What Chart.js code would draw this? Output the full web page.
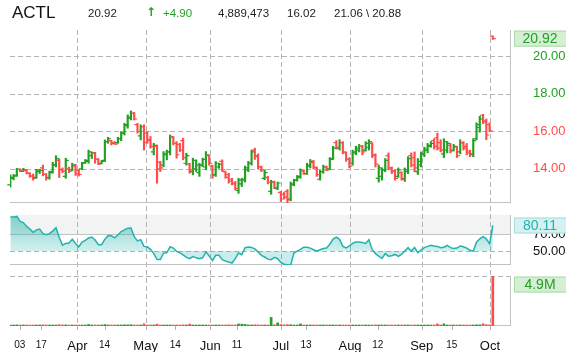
<!DOCTYPE html>
<html>
<head>
<meta charset="utf-8">
<script src="https://cdn.jsdelivr.net/npm/chart.js@4.4.1/dist/chart.umd.min.js"></script>
<style>
  html, body { margin: 0; padding: 0; background: #fff; }
  #wrap { position: relative; width: 566px; height: 352px; overflow: hidden; font-family: 'Liberation Sans', Arial, sans-serif; }
  #chart { position: absolute; left: 0; top: 0; }
  .hd { position: absolute; top: 6px; font-size: 11.5px; line-height: 14px; color: #222; white-space: pre; }
  #sym { top: 3px; font-size: 17px; line-height: 20px; color: #111; }
  #hArrow { top: 5px; font-family: 'DejaVu Sans', sans-serif; font-size: 12px; line-height: 14px; font-weight: bold; }
  .up { color: #22a022; }
</style>
</head>
<body>
<div id="wrap">
  <canvas id="chart" width="566" height="352"></canvas>
  <span class="hd" id="sym" style="left:12px"></span>
  <span class="hd" id="hLast" style="left:88px"></span>
  <span class="hd up" id="hArrow" style="left:146px">↑</span>
  <span class="hd up" id="hChg" style="left:163px"></span>
  <span class="hd" id="hVol" style="left:218px"></span>
  <span class="hd" id="hPrev" style="left:287px"></span>
  <span class="hd" id="hRange" style="left:334px"></span>
</div>
<script>
// ── DATA ─────────────────────────────────────────────────────────────────────
const symbol = 'ACTL';

const opens = [
  13.15, 13.50, 13.65, 13.98, 13.88, 13.92, 13.76, 13.62, 13.55, 13.85,
  14.05, 13.70, 13.52, 13.85, 14.20, 14.45, 13.98, 13.60, 14.00, 13.95,
  14.15, 13.90, 14.00, 14.32, 14.40, 14.70, 14.85, 14.50, 14.30, 14.45,
  15.45, 15.50, 15.40, 15.40, 15.60, 15.90, 16.30, 16.70, 16.95, 16.35,
  15.75, 16.25, 15.90, 15.55, 14.90, 15.20, 14.35, 14.20, 14.75, 14.90,
  15.70, 15.35, 15.30, 15.50, 14.30, 14.25, 13.85, 14.00, 13.80, 14.20,
  14.10, 14.70, 14.15, 13.70, 14.10, 14.40, 13.85, 13.70, 13.45, 13.25,
  12.85, 13.20, 13.40, 13.95, 14.30, 15.00, 14.70, 14.10, 13.50, 13.55,
  12.80, 13.30, 12.95, 12.75, 12.65, 12.80, 12.40, 13.15, 13.40, 13.55,
  13.90, 13.75, 14.15, 14.35, 14.05, 13.45, 13.85, 14.10, 14.00, 14.55,
  15.40, 15.10, 15.40, 14.85, 14.50, 14.30, 14.85, 15.00, 15.20, 15.00,
  15.15, 15.35, 14.70, 13.50, 13.60, 13.95, 14.70, 14.05, 13.90, 13.60,
  13.80, 13.45, 13.85, 14.70, 14.60, 13.85, 14.20, 14.75, 15.00, 15.20,
  15.50, 15.65, 15.40, 14.80, 15.00, 15.25, 15.00, 15.15, 14.90, 15.40,
  15.20, 14.95, 14.80, 15.60, 16.20, 16.85, 16.55, 16.35, 21.05
];
const highs = [
  13.68, 13.70, 14.03, 14.00, 14.03, 13.95, 13.80, 13.73, 13.98, 13.98,
  14.20, 13.75, 13.88, 14.35, 14.70, 14.53, 14.05, 14.57, 14.10, 14.30,
  14.25, 13.98, 14.35, 14.50, 15.00, 14.90, 14.88, 14.55, 14.45, 15.54,
  15.68, 15.52, 15.45, 15.68, 15.98, 16.42, 16.87, 17.08, 17.00, 16.42,
  16.34, 16.34, 15.98, 15.72, 15.36, 15.27, 14.40, 14.92, 15.00, 15.80,
  15.72, 15.45, 15.36, 15.63, 14.83, 14.30, 14.57, 14.48, 14.30, 14.57,
  14.92, 14.74, 14.20, 14.39, 14.30, 14.48, 13.86, 13.77, 13.50, 13.33,
  13.50, 13.50, 14.15, 14.40, 15.00, 15.10, 14.80, 14.15, 13.95, 13.60,
  13.40, 13.35, 13.30, 12.80, 12.75, 12.90, 13.30, 13.45, 13.65, 14.00,
  13.95, 14.30, 14.50, 14.45, 14.10, 13.95, 14.20, 14.15, 14.60, 15.20,
  15.50, 15.55, 15.45, 14.90, 14.60, 15.00, 15.20, 15.30, 15.25, 15.45,
  15.55, 15.40, 14.80, 14.20, 14.05, 14.55, 14.85, 14.10, 13.95, 14.05,
  13.85, 14.05, 14.65, 14.85, 14.90, 14.55, 14.90, 15.15, 15.35, 15.45,
  15.60, 15.90, 15.55, 15.60, 15.45, 15.35, 15.30, 15.20, 15.55, 15.45,
  15.35, 15.00, 15.60, 16.45, 16.80, 16.90, 16.65, 16.45, 21.06
];
const lows = [
  13.03, 13.42, 13.60, 13.85, 13.85, 13.73, 13.55, 13.40, 13.50, 13.75,
  13.63, 13.40, 13.45, 13.77, 14.10, 13.54, 13.80, 13.50, 13.80, 13.90,
  13.65, 13.62, 13.95, 14.30, 14.30, 14.55, 14.30, 14.22, 14.27, 14.39,
  15.36, 15.27, 15.30, 15.36, 15.50, 15.80, 16.16, 16.60, 16.60, 15.90,
  15.54, 15.00, 15.36, 15.10, 14.74, 13.24, 13.86, 14.12, 14.48, 14.74,
  15.27, 14.57, 14.92, 14.48, 14.20, 13.77, 13.68, 13.86, 13.60, 14.12,
  13.95, 14.20, 13.50, 13.60, 14.03, 13.86, 13.50, 13.24, 13.15, 12.88,
  12.70, 13.06, 13.30, 13.85, 14.20, 14.50, 14.00, 13.85, 13.42, 13.20,
  12.65, 12.95, 12.90, 12.27, 12.40, 12.20, 12.30, 13.10, 13.35, 13.50,
  13.70, 13.70, 14.05, 14.00, 13.60, 13.40, 13.77, 13.90, 13.95, 14.50,
  15.05, 15.00, 14.80, 14.40, 14.05, 14.20, 14.75, 14.90, 14.75, 14.95,
  15.00, 14.60, 14.10, 13.30, 13.40, 13.85, 13.95, 13.75, 13.40, 13.55,
  13.40, 13.33, 13.75, 14.10, 13.85, 13.70, 14.10, 14.65, 14.85, 15.15,
  15.05, 15.00, 14.90, 14.60, 14.85, 14.85, 14.95, 14.60, 14.80, 15.00,
  14.75, 14.65, 14.65, 15.55, 15.95, 16.40, 15.55, 15.98, 20.88
];
const closes = [
  13.55, 13.62, 13.98, 13.88, 13.95, 13.78, 13.62, 13.50, 13.90, 13.92,
  13.72, 13.55, 13.80, 14.22, 14.55, 13.95, 13.88, 14.45, 13.88, 14.20,
  13.75, 13.70, 14.30, 14.45, 14.90, 14.85, 14.50, 14.25, 14.40, 15.45,
  15.60, 15.35, 15.32, 15.60, 15.90, 16.35, 16.75, 16.95, 16.65, 16.00,
  16.25, 15.40, 15.50, 15.20, 15.25, 14.00, 14.05, 14.80, 14.90, 15.70,
  15.35, 14.75, 15.00, 14.60, 14.70, 13.95, 14.45, 14.20, 14.20, 14.50,
  14.75, 14.30, 13.65, 14.30, 14.25, 13.95, 13.55, 13.35, 13.20, 12.95,
  13.40, 13.45, 14.05, 14.30, 14.90, 14.65, 14.10, 13.95, 13.80, 13.30,
  13.30, 13.00, 13.25, 12.40, 12.50, 12.35, 13.20, 13.40, 13.60, 13.90,
  13.75, 14.20, 14.40, 14.10, 13.70, 13.85, 14.10, 13.95, 14.50, 15.10,
  15.15, 15.40, 14.90, 14.50, 14.15, 14.90, 15.10, 15.20, 14.90, 15.35,
  15.45, 14.75, 14.25, 14.05, 13.95, 14.45, 14.05, 13.85, 13.50, 13.95,
  13.50, 13.95, 14.55, 14.20, 14.05, 14.40, 14.80, 15.05, 15.25, 15.35,
  15.20, 15.10, 15.00, 15.45, 15.35, 14.95, 15.20, 14.70, 15.40, 15.10,
  14.85, 14.75, 15.50, 16.35, 16.65, 16.50, 15.80, 16.02, 20.92
];
const volumes = [
  90000, 60000, 110000, 70000, 50000, 80000, 60000, 90000, 70000, 60000,
  120000, 80000, 60000, 90000, 100000, 130000, 50000, 110000, 60000, 70000,
  90000, 80000, 70000, 60000, 150000, 80000, 70000, 60000, 50000, 140000,
  90000, 70000, 60000, 80000, 100000, 120000, 110000, 130000, 90000, 80000,
  100000, 210000, 90000, 80000, 70000, 180000, 90000, 80000, 70000, 100000,
  80000, 90000, 70000, 110000, 80000, 190000, 90000, 70000, 80000, 60000,
  90000, 70000, 100000, 80000, 60000, 90000, 80000, 110000, 90000, 100000,
  200000, 180000, 160000, 90000, 100000, 120000, 110000, 90000, 80000, 100000,
  840000, 120000, 300000, 150000, 110000, 130000, 120000, 90000, 80000, 200000,
  80000, 90000, 80000, 70000, 90000, 80000, 70000, 60000, 90000, 100000,
  90000, 80000, 90000, 80000, 100000, 80000, 70000, 60000, 80000, 70000,
  90000, 100000, 110000, 90000, 80000, 90000, 80000, 70000, 90000, 80000,
  70000, 80000, 90000, 80000, 90000, 70000, 80000, 70000, 90000, 80000,
  90000, 200000, 80000, 210000, 90000, 80000, 70000, 90000, 80000, 70000,
  80000, 90000, 100000, 120000, 110000, 220000, 130000, 110000, 4889473
];
const rsiValues = [
  90, 90, 90.8, 85, 83.6, 79, 76, 72, 75, 76,
  70.5, 69.2, 70.5, 73.5, 77.5, 66, 57, 59, 59.5, 64,
  59, 55, 60.6, 62.5, 65.5, 66.5, 63, 57.5, 57.5, 64,
  68.4, 68, 65.5, 69, 73, 75, 77, 77.1, 67, 62,
  63.5, 55.5, 55, 52, 47, 40, 40, 47.6, 48, 55,
  53.5, 49.6, 47.8, 45.5, 42.5, 41, 43.5, 42, 41, 42,
  49, 44, 38.6, 45, 45, 39.8, 38.2, 37, 35.9, 41,
  47.6, 45.7, 54, 54.7, 54.3, 52.5, 49, 45, 43, 40.5,
  39.8, 42.5, 41, 36.5, 34.5, 34, 33.5, 47.6, 50, 52,
  54.5, 54.5, 53.5, 51.5, 49.8, 51.5, 53, 53.5, 58, 64,
  66.3, 63.8, 55.5, 53.8, 56, 59, 60.6, 60.6, 60, 59,
  63.3, 51.6, 47, 44, 41.2, 47, 44, 44.5, 46, 43.8,
  46, 50, 54, 50, 54.2, 48, 51.5, 54, 55.5, 56.7,
  56, 55.5, 54, 54.5, 56.7, 54, 53, 53.5, 56, 55,
  53.5, 51, 50, 60.5, 64.5, 67, 64.5, 58.5, 80.11
];

// bar index where each date label sits, and the label itself
const xTickValues = [2.9, 9.5, 20.6, 28.9, 41.5, 50.6, 61.3, 69.5, 83.0, 90.7, 104.2, 112.7, 126.2, 135.4, 147.1];
const xTickLabels = ['03', '17', 'Apr', '14', 'May', '14', 'Jun', '11', 'Jul', '13', 'Aug', '12', 'Sep', '15', 'Oct'];
const priceTicks = [14, 16, 18, 20];
const rsiTicks = [50, 70];

// ── STYLE ────────────────────────────────────────────────────────────────────
const FONT  = "'Liberation Sans', Arial, sans-serif";
const UP    = '#22a022';
const DOWN  = '#ff4d4d';
const TEAL  = '#22b3ad';
const GRID  = '#b3b3b3';
const FRAME = '#c2c2c2';
const DASH  = [5, 3];

const PMIN = 12.18, PMAX = 21.38;
const RMIN = 33.5,  RMAX = 92.7;
const XMIN = -0.1,  XMAX = 153.27;

const last = closes.length - 1;
const prevClose = closes[last - 1];
const idx = closes.map((_, i) => i);
const barColors = idx.map(i => closes[i] >= opens[i] ? UP : DOWN);
const VMAX = Math.max(...volumes);
const isMonth = i => /^[A-Z]/.test(xTickLabels[i] || '');

// ── HEADER ───────────────────────────────────────────────────────────────────
document.getElementById('sym').textContent = symbol;
document.getElementById('hLast').textContent = closes[last].toFixed(2);
document.getElementById('hChg').textContent = '+' + (closes[last] - prevClose).toFixed(2);
document.getElementById('hVol').textContent = volumes[last].toLocaleString('en-US');
document.getElementById('hPrev').textContent = prevClose.toFixed(2);
document.getElementById('hRange').textContent = highs[last].toFixed(2) + ' \\ ' + lows[last].toFixed(2);

// ── PLUGINS ──────────────────────────────────────────────────────────────────
// light band above 70 in the RSI pane
const rsiBand = {
  id: 'rsiBand',
  beforeDraw(chart) {
    const { ctx, chartArea, scales: { yR } } = chart;
    const y70 = yR.getPixelForValue(70);
    ctx.save();
    ctx.fillStyle = '#f2f4f3';
    ctx.fillRect(chartArea.left, yR.top, chartArea.right - chartArea.left, y70 - yR.top);
    ctx.restore();
  }
};

// grid lines and pane frames, placed from the scales
const paneGrid = {
  id: 'paneGrid',
  beforeDatasetsDraw(chart) {
    const { ctx, chartArea: { left, right, top, bottom }, scales: { x, yP, yR, yV } } = chart;
    const snap = v => Math.round(v) + 0.5;
    const hline = (y, color, dash) => {
      ctx.strokeStyle = color; ctx.setLineDash(dash);
      ctx.beginPath(); ctx.moveTo(left, snap(y)); ctx.lineTo(right, snap(y)); ctx.stroke();
    };
    const vline = (px, y0, y1, color, dash) => {
      ctx.strokeStyle = color; ctx.setLineDash(dash);
      ctx.beginPath(); ctx.moveTo(snap(px), y0); ctx.lineTo(snap(px), y1); ctx.stroke();
    };
    ctx.save();
    ctx.lineWidth = 1;
    xTickValues.forEach((v, i) => {
      const px = x.getPixelForValue(v);
      if (isMonth(i)) vline(px, top, bottom, GRID, DASH);
      vline(px, bottom, bottom + 4, GRID, []);
    });
    priceTicks.forEach(v => hline(yP.getPixelForValue(v), GRID, DASH));
    hline(yP.getPixelForValue(PMIN) - 1, FRAME, []);
    hline(yR.getPixelForValue(70), FRAME, []);
    hline(yR.getPixelForValue(50), GRID, DASH);
    hline(yR.getPixelForValue(RMIN) - 1, FRAME, []);
    hline(yV.getPixelForValue(VMAX), GRID, DASH);
    hline(yV.getPixelForValue(0) - 1, FRAME, []);
    [yP, yR, yV].forEach(s => vline(right, s.top, s.bottom, FRAME, []));
    ctx.restore();
  }
};

// open (left) and close (right) ticks of each bar
const ohlcTicks = {
  id: 'ohlcTicks',
  afterDatasetsDraw(chart) {
    const { ctx, scales: { x, yP } } = chart;
    ctx.save();
    ctx.setLineDash([]);
    ctx.lineWidth = 1.2;
    idx.forEach(i => {
      const px = x.getPixelForValue(i);
      const yo = yP.getPixelForValue(opens[i]);
      const yc = yP.getPixelForValue(closes[i]);
      ctx.strokeStyle = barColors[i];
      ctx.beginPath();
      ctx.moveTo(px - 3, yo); ctx.lineTo(px, yo);
      ctx.moveTo(px, yc); ctx.lineTo(px + 3, yc);
      ctx.stroke();
    });
    ctx.restore();
  }
};

function tag(ctx, left, y, text, fill, stroke, color) {
  ctx.setLineDash([]);
  ctx.fillStyle = fill;
  ctx.fillRect(left, y - 8, 60, 16);
  ctx.strokeStyle = stroke;
  ctx.lineWidth = 1;
  ctx.strokeRect(left + 0.5, y - 7.5, 60, 15);
  ctx.fillStyle = color;
  ctx.font = '14px ' + FONT;
  ctx.textAlign = 'center';
  ctx.textBaseline = 'middle';
  ctx.fillText(text, left + 26, y + 0.5);
}

// last-value tags on the right
const lastTags = {
  id: 'lastTags',
  afterDraw(chart) {
    const { ctx, chartArea, scales: { yP, yR, yV } } = chart;
    const left = chartArea.right + 4;
    ctx.save();
    tag(ctx, left, yP.getPixelForValue(closes[last]), closes[last].toFixed(2), '#d5efd5', '#a9dba9', UP);
    tag(ctx, left, yR.getPixelForValue(rsiValues[last]), rsiValues[last].toFixed(2), '#d6f1f1', '#a6dfdf', TEAL);
    const vy = Math.max(yV.getPixelForValue(volumes[last]), yV.top + 8.5);
    tag(ctx, left, vy, (volumes[last] / 1e6).toFixed(1) + 'M', '#d5efd5', '#a9dba9', UP);
    ctx.restore();
  }
};

// ── SCALES ───────────────────────────────────────────────────────────────────
const fixW = s => { s.width = 56; };
const pane = (w, extra) => Object.assign({
  type: 'linear', position: 'right', stack: 'panes', stackWeight: w,
  grid: { display: false }, border: { display: false }, ticks: { display: false },
  afterFit: fixW
}, extra);

const scales = {
  x: {
    type: 'linear', min: XMIN, max: XMAX, offset: false,
    afterBuildTicks: s => { s.ticks = xTickValues.map(v => ({ value: v })); },
    afterFit: s => { s.height = 26; },
    grid: { display: false }, border: { display: false },
    ticks: {
      autoSkip: false, maxRotation: 0, padding: 5, color: '#111',
      callback: (v, i) => xTickLabels[i],
      font: ctx => ({ family: FONT, size: isMonth(ctx.index) ? 13 : 10 })
    }
  },
  yP: pane(173.3, {
    min: PMIN, max: PMAX,
    afterBuildTicks: s => { s.ticks = priceTicks.map(v => ({ value: v })); },
    ticks: {
      display: true, autoSkip: false, padding: 15, font: { family: FONT, size: 13 },
      color: ctx => ctx.tick && ctx.tick.value > prevClose ? UP : DOWN,
      callback: v => v.toFixed(2)
    }
  }),
  gap1: pane(11.7),
  yR: pane(50.3, {
    min: RMIN, max: RMAX,
    afterBuildTicks: s => { s.ticks = rsiTicks.map(v => ({ value: v })); },
    ticks: {
      display: true, autoSkip: false, padding: 15, font: { family: FONT, size: 13 }, color: '#111',
      callback: v => v.toFixed(2)
    }
  }),
  gap2: pane(11),
  yV: pane(50, { min: 0, max: VMAX })
};

// ── CHART ────────────────────────────────────────────────────────────────────
new Chart(document.getElementById('chart'), {
  type: 'bar',
  data: {
    datasets: [
      {
        label: 'range', yAxisID: 'yP', grouped: false, barThickness: 1.5,
        data: idx.map(i => ({ x: i, y: [lows[i], highs[i]] })),
        backgroundColor: barColors, borderWidth: 0
      },
      {
        label: 'volume', yAxisID: 'yV', grouped: false, barThickness: 2, minBarLength: 1,
        data: idx.map(i => ({ x: i, y: volumes[i] })),
        backgroundColor: barColors, borderWidth: 0
      },
      {
        type: 'line', label: 'rsi', yAxisID: 'yR',
        data: idx.map(i => ({ x: i, y: rsiValues[i] })),
        borderColor: TEAL, borderWidth: 1.5, pointRadius: 0, tension: 0,
        fill: { value: 50, below: 'rgba(32,178,170,0.24)' },
        backgroundColor: ctx => {
          const yR = ctx.chart.scales.yR;
          if (!yR || !isFinite(yR.top)) return 'rgba(32,178,170,0.35)';
          const g = ctx.chart.ctx.createLinearGradient(0, yR.top, 0, yR.getPixelForValue(50));
          g.addColorStop(0, 'rgba(32,178,170,0.55)');
          g.addColorStop(1, 'rgba(32,178,170,0.2)');
          return g;
        }
      }
    ]
  },
  options: {
    responsive: false, animation: false, devicePixelRatio: 1, events: [],
    layout: { padding: { left: 10, top: 30, right: 0, bottom: 0 } },
    plugins: { legend: { display: false }, tooltip: { enabled: false } },
    scales
  },
  plugins: [rsiBand, paneGrid, ohlcTicks, lastTags]
});
</script>
</body>
</html>
